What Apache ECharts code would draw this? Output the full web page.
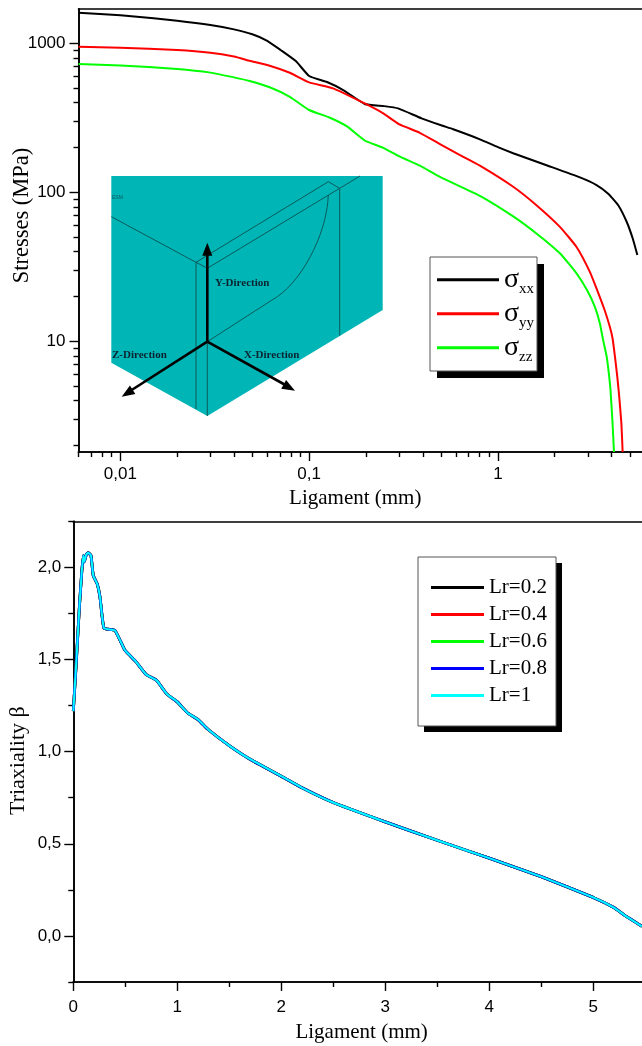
<!DOCTYPE html>
<html>
<head>
<meta charset="utf-8">
<style>html,body{margin:0;padding:0;background:#fff}#c{width:642px;height:1046px}</style>
<script src="https://cdn.jsdelivr.net/npm/echarts@6/dist/echarts.min.js"></script>
</head>
<body>
<div id="c"></div>
<script>
var sxx = [[0.006,1607],[0.01,1542],[0.015,1472],[0.02,1420],[0.03,1327],[0.04,1241],[0.05,1150],[0.06,1040],[0.0706,902],[0.085,760],[0.1,604],[0.1235,552],[0.1515,486],[0.197,392],[0.25,379],[0.296,366],[0.394,314],[0.5,282],[0.58,265],[0.803,227],[1,201],[1.205,183],[1.81,152],[2.72,126],[3.33,112],[3.84,98],[4.34,82],[4.81,63.5],[5.18,49],[5.48,38]];
var syy = [[0.006,950],[0.01,935],[0.02,902],[0.03,865],[0.04,815],[0.0484,764],[0.0618,708],[0.079,635],[0.1,547],[0.134,499],[0.197,395],[0.247,339],[0.299,287],[0.386,251],[0.493,211],[0.63,178],[0.803,151],[1.205,109],[1.6,82],[2.13,58.7],[2.61,43],[3.07,29.3],[3.36,22],[3.69,16],[3.92,12.5],[4.05,10.5],[4.17,7.9],[4.29,5.8],[4.39,4.3],[4.51,2.82],[4.58,1.81]];
var szz = [[0.006,726],[0.01,711],[0.02,673],[0.03,636],[0.04,591],[0.0484,559],[0.0618,507],[0.079,438],[0.1,357],[0.128,318],[0.158,278],[0.198,222],[0.247,199],[0.299,175],[0.386,151],[0.493,127],[0.803,94.8],[1.205,69],[1.6,53],[2.13,39],[2.61,28.6],[2.97,22],[3.26,17.1],[3.47,13.2],[3.61,10.2],[3.77,7.9],[3.87,6.1],[3.95,4.7],[4.05,2.82],[4.12,1.81]];
var triax = [[0,1.22],[0.026,1.46],[0.058,1.78],[0.08,1.965],[0.096,2.064],[0.105,2.03],[0.125,2.07],[0.144,2.08],[0.17,2.064],[0.192,1.955],[0.23,1.91],[0.257,1.838],[0.295,1.67],[0.4,1.658],[0.497,1.55],[0.6,1.49],[0.7,1.419],[0.8,1.387],[0.9,1.313],[1,1.27],[1.1,1.21],[1.2,1.174],[1.3,1.119],[1.5,1.033],[1.7,0.959],[2,0.867],[2.2,0.804],[2.5,0.724],[3,0.619],[3.5,0.519],[4,0.422],[4.5,0.322],[5,0.209],[5.2,0.154],[5.3,0.113],[5.47,0.052]];
var lrNames = ['Lr=0.2','Lr=0.4','Lr=0.6','Lr=0.8','Lr=1'];
var lrColors = ['#000000','#ff0000','#00ff00','#0000ff','#00ffff'];
var stressNames = ['σxx','σyy','σzz'];
var stressColors = ['#000000','#ff0000','#00ff00'];
var logXMajor = [0.01,0.1,1];
var logXMinor = [0.006,0.007,0.008,0.009,0.02,0.03,0.04,0.05,0.06,0.07,0.08,0.09,0.2,0.3,0.4,0.5,0.6,0.7,0.8,0.9,2,3,4,5];
var logYMajor = [10,100,1000];
var logYMinor = [2,3,4,5,6,7,8,9,20,30,40,50,60,70,80,90,200,300,400,500,600,700,800,900];
var linXMajor = [0,1,2,3,4,5];
var linXMinor = [0.5,1.5,2.5,3.5,4.5];
var linYMajor = [0,0.5,1,1.5,2];
var linYMinor = [-0.25,0.25,0.75,1.25,1.75,2.25];

var narrow = '"Liberation Sans",Arial,sans-serif';
var serif = '"Liberation Serif","Times New Roman",serif';
var comma = function(v){return String(v).replace('.',',');};
var comma1 = function(v){return Number(v).toFixed(1).replace('.',',');};
var line = {show:true,onZero:false,lineStyle:{color:'#000',width:1.6}};

function axis(type,opts){
  var o = {type:type,min:opts.min,max:opts.max,gridIndex:opts.grid,position:opts.position,
    axisLine:line,splitLine:{show:false},minorTick:{show:false},minorSplitLine:{show:false},
    axisTick:{show:false},axisLabel:{show:false}};
  if(opts.ticks){
    o.axisTick={show:true,inside:false,length:opts.len,customValues:opts.ticks,lineStyle:{color:'#000',width:1.4}};
  }
  if(opts.labels){
    o.axisLabel={show:true,customValues:opts.labels,formatter:opts.fmt,fontFamily:narrow,fontSize:17,color:'#000',margin:opts.margin||10,showMinLabel:true,showMaxLabel:true};
  }
  if(opts.name){
    o.name=opts.name;o.nameLocation='middle';o.nameGap=opts.gap;o.nameMoveOverlap=false;
    o.nameTextStyle={fontFamily:serif,fontSize:opts.nameSize||21,color:'#000',padding:opts.pad||0};
  }
  return o;
}

function stressFmt(n){return '{s|σ}{t|'+n.slice(1)+'}';}

var series = [
  {name:stressNames[0],data:sxx,color:stressColors[0]},
  {name:stressNames[1],data:syy,color:stressColors[1]},
  {name:stressNames[2],data:szz,color:stressColors[2]}
].map(function(s){
  return {type:'line',name:s.name,xAxisIndex:0,yAxisIndex:0,data:s.data,showSymbol:false,symbol:'none',smooth:0.15,
    lineStyle:{color:s.color,width:2},itemStyle:{color:s.color},z:5};
});
lrNames.forEach(function(n,i){
  series.push({type:'line',name:n,xAxisIndex:3,yAxisIndex:2,data:triax,showSymbol:false,symbol:'none',smooth:0.12,
    lineStyle:{color:lrColors[i],width:i===4?2:2.8},itemStyle:{color:lrColors[i]},z:5+i});
});

var inkLine = {stroke:'#0c5a5c',lineWidth:1,fill:null};
function seg(a,b,c,d){return {type:'line',shape:{x1:a,y1:b,x2:c,y2:d},style:inkLine,z:2};}
function arrow(x,y,angle){
  return {type:'polygon',shape:{points:[[0,0],[-13,-5],[-13,5]]},x:x,y:y,rotation:-angle,style:{fill:'#000'},z:4};
}
function shaft(a,b,c,d){return {type:'line',shape:{x1:a,y1:b,x2:c,y2:d},style:{stroke:'#000',lineWidth:2.6},z:3};}
function lab(t,x,y){return {type:'text',x:x,y:y,style:{text:t,font:'bold 11px "Liberation Serif",serif',fill:'#0b2330',textVerticalAlign:'middle'},z:4};}
function frame(x,y,w,h,dx,dy){
  return [
    {type:'rect',shape:{x:x+dx,y:y+dy,width:w,height:h},style:{fill:'#000'},z:3},
    {type:'rect',shape:{x:x,y:y,width:w,height:h},style:{fill:'#fff',stroke:'#555',lineWidth:1},z:3}
  ];
}

var inset = [
  {type:'polygon',shape:{points:[[111.3,176],[382.7,176],[382.7,310],[207.3,416],[111.3,362.7]]},style:{fill:'#00b5b5'},z:1},
  seg(111.3,216.7,196,262.3),seg(196,262.3,196,409),seg(207.3,268.3,207.3,416),
  seg(196,262.3,328.3,181.7),seg(207.3,268.3,339.7,188.3),seg(328.3,181.7,339.7,188.3),
  seg(196,262.3,207.3,268.3),seg(339.7,188.3,360,176),seg(339.7,188.3,339.7,335.7),
  {type:'bezierCurve',shape:{x1:328.3,y1:195,cpx1:327,cpy1:235,cpx2:300,cpy2:285,x2:272,y2:300},style:inkLine,z:2},
  seg(272,300,207.3,341.7),
  shaft(207.3,341.7,207.3,250),shaft(207.3,341.7,127,393),shaft(207.3,341.7,289,387),
  arrow(207.3,242.7,-Math.PI/2),
  arrow(121.7,396.7,Math.atan2(396.7-341.7,121.7-207.3)),
  arrow(295,390.7,Math.atan2(390.7-341.7,295-207.3)),
  lab('Y-Direction',215,283),lab('Z-Direction',112,355),lab('X-Direction',244,355),
  {type:'text',x:112,y:198,style:{text:'ESM',font:'5px "Liberation Sans",sans-serif',fill:'#0b5560',textVerticalAlign:'middle'},z:2}
].concat(frame(430,257,107,114,7,7),frame(418,557,138,169,6,6));

var chart = echarts.init(document.getElementById('c'),null,{renderer:'canvas'});
chart.setOption({
  animation:false,
  backgroundColor:'#fff',
  grid:[
    {left:78.5,top:9,right:0,bottom:594,containLabel:false,outerBoundsMode:'none'},
    {left:73.3,top:521.3,right:0,bottom:64,containLabel:false,outerBoundsMode:'none'}
  ],
  xAxis:[
    axis('log',{grid:0,min:0.006,max:5.8,position:'bottom',ticks:logXMajor,len:9,labels:logXMajor,fmt:comma,margin:14,name:'Ligament (mm)',gap:36,pad:[0,10,0,0]}),
    axis('log',{grid:0,min:0.006,max:5.8,position:'bottom',ticks:logXMinor,len:5}),
    axis('log',{grid:0,min:0.006,max:5.8,position:'top'}),
    axis('value',{grid:1,min:0,max:5.47,position:'bottom',ticks:linXMajor,len:9,labels:linXMajor,fmt:comma,margin:17,name:'Ligament (mm)',gap:40,pad:[0,0,0,8]}),
    axis('value',{grid:1,min:0,max:5.47,position:'bottom',ticks:linXMinor,len:5}),
    axis('value',{grid:1,min:0,max:5.47,position:'top'})
  ],
  yAxis:[
    axis('log',{grid:0,min:1.81,max:1700,position:'left',ticks:logYMajor,len:9,labels:logYMajor,fmt:comma,margin:13,name:'Stresses (MPa)',gap:45,nameSize:22.5,pad:[0,0,0,30]}),
    axis('log',{grid:0,min:1.81,max:1700,position:'left',ticks:logYMinor,len:5}),
    axis('value',{grid:1,min:-0.25,max:2.25,position:'left',ticks:linYMajor,len:9,labels:linYMajor,fmt:comma1,margin:12,name:'Triaxiality β',gap:44,nameSize:22,pad:[0,18,0,0]}),
    axis('value',{grid:1,min:-0.25,max:2.25,position:'left',ticks:linYMinor,len:5})
  ],
  legend:[
    {data:stressNames,orient:'vertical',left:437,top:264,padding:0,itemGap:1.5,itemWidth:62,itemHeight:3,icon:'rect',z:6,
     formatter:stressFmt,
     textStyle:{rich:{s:{fontFamily:serif,fontSize:28,color:'#000',lineHeight:33.5,verticalAlign:'middle'},t:{fontFamily:serif,fontSize:15,color:'#000',verticalAlign:'bottom',lineHeight:16,padding:[17.5,0,0,0]}}}},
    {data:lrNames,orient:'vertical',left:431,top:575,padding:0,itemGap:2,itemWidth:53,itemHeight:3,icon:'rect',itemStyle:{borderWidth:0},z:6,
     textStyle:{fontFamily:serif,fontSize:21,color:'#000',lineHeight:25}}
  ],
  graphic:{elements:inset},
  series:series
});
</script>
</body>
</html>
